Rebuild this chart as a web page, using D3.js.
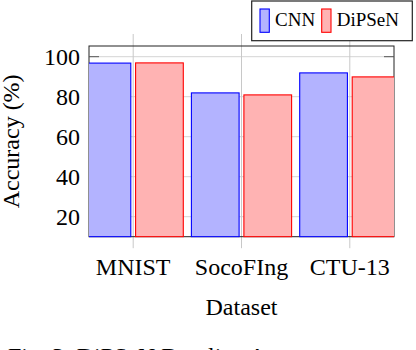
<!DOCTYPE html>
<html>
<head>
<meta charset="utf-8">
<script src="https://cdn.jsdelivr.net/npm/d3@7"></script>
<style>
  html, body { margin: 0; padding: 0; background: #fff; overflow: hidden; }
  svg { display: block; }
  svg text { font-family: 'Liberation Serif', 'Tinos', 'DejaVu Serif', serif; }
</style>
</head>
<body>
<div id="chart"></div>
<script>
// Accuracy per dataset
const datasets = ['MNIST', 'SocoFIng', 'CTU-13'];
const seriesNames = ['CNN', 'DiPSeN'];
const cnnValues = [96.8, 81.9, 91.9];
const dipsenValues = [96.9, 80.9, 89.9];
const yTicks = [20, 40, 60, 80, 100];

const width = 416, height = 350;

const plot = { left: 89, right: 394, top: 46, bottom: 236.7 };
const barW = 47.7, barOff = 26.25;

const colors = {
    CNN: { fill: '#b3b3ff', stroke: '#0000ff' },
    DiPSeN: { fill: '#ffb3b3', stroke: '#ff0000' }
};

const svg = d3.select('#chart').append('svg')
    .attr('width', width)
    .attr('height', height);

const x = d3.scaleLinear()
    .domain([-0.408, datasets.length - 1 + 0.408])
    .range([plot.left, plot.right]);

const y = d3.scaleLinear()
    .domain([10, 105.35])
    .range([plot.bottom, plot.top]);

svg.append('defs').append('clipPath').attr('id', 'clip')
    .append('rect')
    .attr('x', plot.left).attr('y', plot.top)
    .attr('width', plot.right - plot.left)
    .attr('height', plot.bottom - plot.top + 1);

// grid
const grid = svg.append('g');
grid.selectAll('line.h')
    .data(yTicks)
    .enter().append('line')
    .attr('x1', plot.left).attr('x2', plot.right)
    .attr('y1', d => y(d)).attr('y2', d => y(d))
    .attr('stroke', '#d4d4d4').attr('stroke-width', 1);
grid.selectAll('line.v')
    .data(datasets)
    .enter().append('line')
    .attr('x1', (d, i) => x(i)).attr('x2', (d, i) => x(i))
    .attr('y1', plot.top - 12).attr('y2', plot.bottom + 11.5)
    .attr('stroke', '#c8c8c8').attr('stroke-width', 1);

// axis box
svg.append('rect')
    .attr('x', plot.left).attr('y', plot.top)
    .attr('width', plot.right - plot.left)
    .attr('height', plot.bottom - plot.top)
    .attr('fill', 'none')
    .attr('stroke', '#222').attr('stroke-width', 1);

// y tick marks (inside, both sides)
const ticks = svg.append('g');
yTicks.forEach(t => {
    ticks.append('line')
        .attr('x1', plot.left).attr('x2', plot.left + 10)
        .attr('y1', y(t)).attr('y2', y(t))
        .attr('stroke', '#555').attr('stroke-width', 1);
    ticks.append('line')
        .attr('x1', plot.right - 10).attr('x2', plot.right)
        .attr('y1', y(t)).attr('y2', y(t))
        .attr('stroke', '#555').attr('stroke-width', 1);
});

// bars
const series = [
    { name: 'CNN', values: cnnValues, off: -barOff },
    { name: 'DiPSeN', values: dipsenValues, off: barOff }
];
const bars = svg.append('g').attr('clip-path', 'url(#clip)');
series.forEach(s => {
    bars.selectAll(null)
        .data(s.values)
        .enter().append('rect')
        .attr('x', (d, i) => x(i) + s.off - barW / 2)
        .attr('y', d => y(d))
        .attr('width', barW)
        .attr('height', d => y(10) - y(d))
        .attr('fill', colors[s.name].fill)
        .attr('stroke', colors[s.name].stroke)
        .attr('stroke-width', 1.1);
});

// tick labels
svg.append('g').selectAll('text')
    .data(yTicks)
    .enter().append('text')
    .attr('x', plot.left - 9)
    .attr('y', d => y(d) + 8.5)
    .attr('text-anchor', 'end')
    .attr('font-size', 24)
    .text(d => d);

svg.append('g').selectAll('text')
    .data(datasets)
    .enter().append('text')
    .attr('x', (d, i) => x(i))
    .attr('y', 275)
    .attr('text-anchor', 'middle')
    .attr('font-size', 24)
    .text(d => d);

// axis titles
svg.append('text')
    .attr('x', (plot.left + plot.right) / 2)
    .attr('y', 315)
    .attr('text-anchor', 'middle')
    .attr('font-size', 24)
    .text('Dataset');

svg.append('text')
    .attr('transform', `translate(18.5,${(plot.top + plot.bottom) / 2}) rotate(-90)`)
    .attr('text-anchor', 'middle')
    .attr('font-size', 24)
    .text('Accuracy (%)');

// legend
const legend = svg.append('g');
legend.append('rect')
    .attr('x', 251.7).attr('y', 1)
    .attr('width', 160.6).attr('height', 39.7)
    .attr('fill', '#fff')
    .attr('stroke', '#222').attr('stroke-width', 1.2);
const legendX = [260, 321.7];
seriesNames.forEach((name, i) => {
    legend.append('rect')
        .attr('x', legendX[i]).attr('y', 9)
        .attr('width', 9.3).attr('height', 23.3)
        .attr('fill', colors[name].fill)
        .attr('stroke', colors[name].stroke)
        .attr('stroke-width', 1.1);
    legend.append('text')
        .attr('x', legendX[i] + 15)
        .attr('y', 25.5)
        .attr('font-size', 19)
        .text(name);
});

// caption (cut off by the frame)
svg.append('text')
    .attr('x', 8)
    .attr('y', 364)
    .attr('font-size', 24)
    .text('Fig. 3: DiPSeN Baseline Accuracy');
</script>
</body>
</html>
